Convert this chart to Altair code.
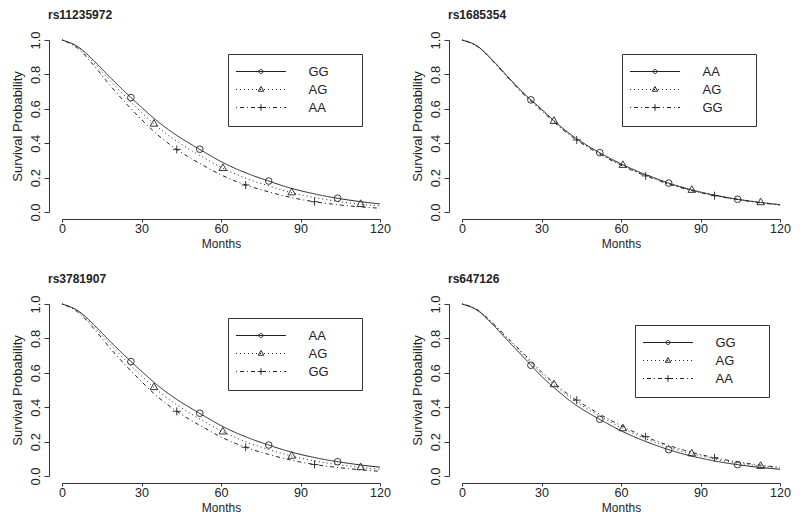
import altair as alt
import pandas as pd

# ---------------- data ----------------
MONTHS = [0, 6, 12, 18, 24, 30, 36, 42, 48, 54, 60, 66, 72, 78, 84, 90, 96, 102, 108, 114, 120]
MARK_MONTHS = [[26, 52, 78, 104], [34.7, 60.7, 86.7, 112.7], [43.3, 69.3, 95.3]]

PANEL_NAMES = ["rs11235972", "rs1685354", "rs3781907", "rs647126"]
PANEL_GENOS = [["GG", "AG", "AA"], ["AA", "AG", "GG"], ["AA", "AG", "GG"], ["GG", "AG", "AA"]]

P1_CURVES = [
    [1.0, 0.961, 0.880, 0.785, 0.695, 0.609, 0.528, 0.459, 0.400, 0.346, 0.293, 0.249, 0.212, 0.180, 0.149, 0.124, 0.103, 0.085, 0.070, 0.0575, 0.047],
    [1.0, 0.957, 0.868, 0.766, 0.670, 0.579, 0.495, 0.425, 0.365, 0.311, 0.260, 0.217, 0.181, 0.152, 0.123, 0.100, 0.082, 0.0665, 0.0537, 0.0432, 0.0348],
    [1.0, 0.951, 0.852, 0.739, 0.634, 0.538, 0.450, 0.378, 0.318, 0.265, 0.216, 0.176, 0.144, 0.117, 0.093, 0.0735, 0.058, 0.046, 0.036, 0.028, 0.022],
]
P1_MARKS = [[0.665, 0.365, 0.180, 0.080], [0.512, 0.254, 0.1125, 0.0453], [0.364, 0.157, 0.0597]]

P2_CURVES = [
    [1.0, 0.962, 0.875, 0.775, 0.680, 0.598, 0.513, 0.440, 0.380, 0.327, 0.280, 0.238, 0.202, 0.168, 0.140, 0.116, 0.096, 0.079, 0.065, 0.053, 0.043],
    [1.0, 0.961, 0.873, 0.772, 0.677, 0.595, 0.510, 0.437, 0.377, 0.324, 0.277, 0.235, 0.199, 0.166, 0.138, 0.114, 0.095, 0.078, 0.064, 0.052, 0.042],
    [1.0, 0.960, 0.871, 0.769, 0.673, 0.590, 0.505, 0.432, 0.372, 0.319, 0.272, 0.230, 0.195, 0.162, 0.135, 0.112, 0.093, 0.077, 0.063, 0.051, 0.041],
]
P2_MARKS = [[0.652, 0.345, 0.168, 0.074], [0.528, 0.272, 0.127, 0.055], [0.419, 0.210, 0.095]]

P3_CURVES = [
    [1.0, 0.961, 0.880, 0.785, 0.695, 0.609, 0.528, 0.459, 0.400, 0.346, 0.293, 0.249, 0.212, 0.180, 0.150, 0.1255, 0.105, 0.088, 0.074, 0.0614, 0.0513],
    [1.0, 0.957, 0.870, 0.768, 0.672, 0.582, 0.498, 0.428, 0.368, 0.314, 0.263, 0.220, 0.184, 0.154, 0.127, 0.104, 0.0856, 0.0707, 0.0588, 0.0478, 0.0393],
    [1.0, 0.953, 0.857, 0.746, 0.644, 0.549, 0.462, 0.390, 0.330, 0.277, 0.227, 0.186, 0.153, 0.1255, 0.101, 0.0812, 0.0653, 0.0529, 0.0430, 0.0342, 0.0275],
]
P3_MARKS = [[0.665, 0.365, 0.180, 0.083], [0.515, 0.257, 0.116, 0.050], [0.376, 0.167, 0.067]]

P4_CURVES = [
    [1.0, 0.961, 0.874, 0.775, 0.678, 0.580, 0.497, 0.423, 0.364, 0.312, 0.263, 0.221, 0.185, 0.153, 0.126, 0.104, 0.0854, 0.0703, 0.0578, 0.0474, 0.0388],
    [1.0, 0.963, 0.880, 0.785, 0.692, 0.596, 0.514, 0.442, 0.383, 0.331, 0.281, 0.238, 0.201, 0.168, 0.140, 0.117, 0.0966, 0.0803, 0.0667, 0.0551, 0.0456],
    [1.0, 0.964, 0.883, 0.791, 0.700, 0.606, 0.525, 0.453, 0.395, 0.342, 0.293, 0.249, 0.211, 0.178, 0.149, 0.125, 0.104, 0.0869, 0.0727, 0.0604, 0.0503],
]
P4_MARKS = [[0.644, 0.330, 0.153, 0.066], [0.532, 0.276, 0.130, 0.057], [0.441, 0.229, 0.106]]

ALL_CURVES = [P1_CURVES, P2_CURVES, P3_CURVES, P4_CURVES]
ALL_MARKS = [P1_MARKS, P2_MARKS, P3_MARKS, P4_MARKS]

# ---------------- styles ----------------
FONT = "Liberation Sans"
INK = "#222222"
PANEL_W, PANEL_H = 318, 172
LEGEND_XY = [(166, 14), (160, 14), (166, 14), (173, 21)]
DASHES = [[1, 0], [1, 3], [1, 3, 4, 3]]

PLOT_SHAPES = [
    ("circle", 44),
    ("M0,-1.1L0.95,0.55L-0.95,0.55Z", 64),
    ("M-1,0H1M0,-1V1", 64),
]


def dash_path(pattern, half=25.0, r=5.0):
    segs = []
    x = -half
    i = 0
    while x < half:
        seg = pattern[i % len(pattern)]
        end = min(x + seg, half)
        if i % 2 == 0:
            segs.append("M%.2f,0H%.2f" % (x / r, end / r))
        x += seg
        i += 1
    return "".join(segs)


EXT = "M17.6,0"
LEGEND_SHAPES = [
    "M-5,0H5M0.4,0A0.4,0.4,0,1,1,-0.4,0A0.4,0.4,0,1,1,0.4,0" + EXT,
    dash_path([1, 3]) + "M0,-0.6L0.55,0.35L-0.55,0.35Z" + EXT,
    dash_path([1, 3, 4, 3]) + "M-0.65,0H0.65M0,-0.65V0.65" + EXT,
]

# ---------------- tables ----------------
line_rows, mark_rows = [], []
for p in range(4):
    for r, g in enumerate(PANEL_GENOS[p]):
        for m, s in zip(MONTHS, ALL_CURVES[p][r]):
            line_rows.append({"panel": p, "genotype": g, "rank": r, "month": m, "surv": s})
        for m, s in zip(MARK_MONTHS[r], ALL_MARKS[p][r]):
            mark_rows.append({"panel": p, "genotype": g, "rank": r, "month": m, "surv": s})
lines_df = pd.DataFrame(line_rows)
marks_df = pd.DataFrame(mark_rows)

x_axis = alt.Axis(values=[0, 30, 60, 90, 120], title="Months", offset=7, grid=False,
                  tickSize=3, labelPadding=0, labelFlush=False, titlePadding=4,
                  labelFontSize=12.5, titleFontSize=12)
y_axis = alt.Axis(values=[0, 0.2, 0.4, 0.6, 0.8, 1.0], format=".1f", title="Survival Probability",
                  offset=13, grid=False, tickSize=5, labelPadding=2, labelAngle=-90,
                  labelAlign="center", labelBaseline="bottom", labelFlush=False, titlePadding=5,
                  labelFontSize=13, titleFontSize=13)


def panel(p):
    ld = lines_df[lines_df.panel == p]
    md = marks_df[marks_df.panel == p]
    genos = PANEL_GENOS[p]
    x = alt.X("month:Q", scale=alt.Scale(domain=[0, 120], nice=False, zero=False), axis=x_axis)
    y = alt.Y("surv:Q", scale=alt.Scale(domain=[0, 1], nice=False), axis=y_axis)

    lines = alt.Chart(ld).mark_line(interpolate="monotone", strokeWidth=1, color=INK).encode(
        x=x, y=y, detail="genotype:N",
        strokeDash=alt.StrokeDash("rank:N", scale=alt.Scale(domain=[0, 1, 2], range=DASHES), legend=None),
    )
    layers = [lines]
    for r, (shape, size) in enumerate(PLOT_SHAPES):
        layers.append(
            alt.Chart(md).transform_filter(alt.datum.rank == r).mark_point(
                shape=shape, size=size, filled=False, stroke=INK, strokeWidth=0.9, opacity=1
            ).encode(x=x, y=y)
        )
    lx, ly = LEGEND_XY[p]
    helper = alt.Chart(pd.DataFrame({"genotype": genos})).transform_filter("false").mark_point(
        filled=False, stroke=INK, strokeWidth=1, opacity=1
    ).encode(
        shape=alt.Shape("genotype:N", scale=alt.Scale(domain=genos, range=LEGEND_SHAPES),
                        legend=alt.Legend(title=None, orient="none", legendX=lx, legendY=ly,
                                          direction="vertical", padding=11, strokeColor="#333333",
                                          fillColor="white", cornerRadius=0, symbolSize=100,
                                          symbolStrokeWidth=1, symbolStrokeColor=INK,
                                          symbolFillColor="transparent", symbolOffset=15.5,
                                          labelFontSize=13, labelFont=FONT, labelColor=INK,
                                          labelOffset=41, rowPadding=4))
    )
    layers.append(helper)
    return alt.layer(*layers).properties(
        width=PANEL_W, height=PANEL_H,
        title=alt.TitleParams(text=PANEL_NAMES[p], anchor="start", frame="group", dx=-14,
                              offset=9, fontSize=12, fontWeight="bold", font=FONT, color=INK),
    )


chart = alt.concat(panel(0), panel(1), panel(2), panel(3), columns=2,
                   spacing={"row": 22, "column": 20}).resolve_scale(shape="independent")

chart = chart.properties(
    padding={"left": 3, "top": 0, "right": 0, "bottom": 0}
).configure(font=FONT).configure_view(strokeWidth=0).configure_axis(
    domainColor="#333333", tickColor="#333333", labelColor=INK, titleColor=INK,
    labelFont=FONT, titleFont=FONT, titleFontWeight="normal",
    domainWidth=1, tickWidth=1,
)

chart.save("out.html", embed_options={"renderer": "svg", "actions": False})
